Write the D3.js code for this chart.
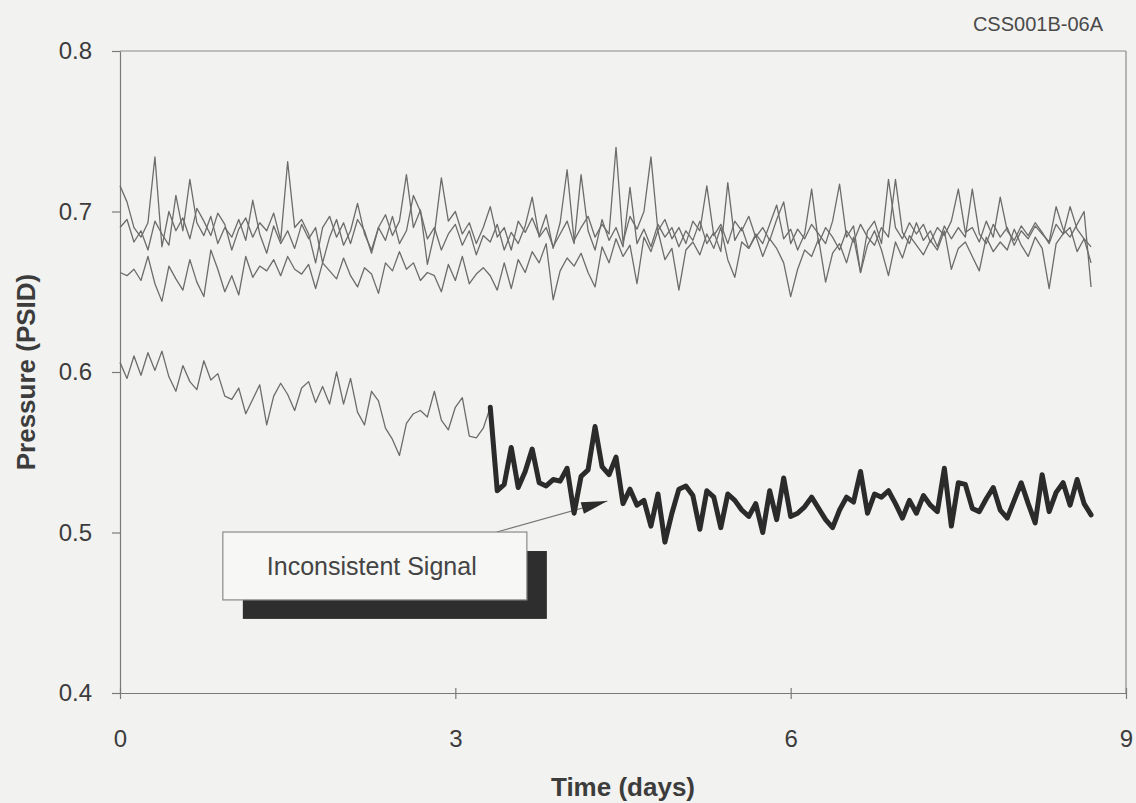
<!DOCTYPE html>
<html>
<head>
<meta charset="utf-8">
<script src="https://cdn.jsdelivr.net/npm/d3@7"></script>
<style>
  html, body { margin: 0; padding: 0; background: #f2f2f0; }
  svg { display: block; }
  text { font-family: "Liberation Sans", Arial, Helvetica, sans-serif; }
</style>
</head>
<body>
<svg id="chart" width="1136" height="803"></svg>
<script>
// Differential pressure, sampled every 1.5 hours
const sampleStepDays = 1 / 16;

const xTickValues = [0, 3, 6, 9];
const yTickValues = [0.4, 0.5, 0.6, 0.7, 0.8];
const yTickLabels = ["0.4", "0.5", "0.6", "0.7", "0.8"];

const chartTag = "CSS001B-06A";
const xTitle = "Time (days)";
const yTitle = "Pressure (PSID)";
const calloutText = "Inconsistent Signal";

// Three healthy channels
const channelA = [
  0.662, 0.660, 0.664, 0.657, 0.672, 0.655, 0.644, 0.666, 0.658, 0.651, 0.670, 0.656, 0.647, 0.676, 0.664, 0.650, 0.660, 0.648, 0.672, 0.659,
  0.666, 0.663, 0.670, 0.660, 0.672, 0.664, 0.661, 0.667, 0.652, 0.668, 0.663, 0.658, 0.671, 0.660, 0.653, 0.665, 0.661, 0.649, 0.668, 0.663,
  0.675, 0.664, 0.668, 0.657, 0.662, 0.660, 0.650, 0.667, 0.657, 0.672, 0.655, 0.661, 0.665, 0.660, 0.651, 0.668, 0.652, 0.670, 0.662, 0.675,
  0.668, 0.680, 0.645, 0.663, 0.671, 0.666, 0.674, 0.662, 0.653, 0.678, 0.668, 0.683, 0.672, 0.679, 0.655, 0.684, 0.675, 0.688, 0.670, 0.677,
  0.651, 0.676, 0.681, 0.673, 0.686, 0.677, 0.690, 0.670, 0.659, 0.681, 0.677, 0.685, 0.672, 0.683, 0.677, 0.668, 0.647, 0.664, 0.676, 0.672,
  0.683, 0.656, 0.674, 0.680, 0.668, 0.684, 0.662, 0.679, 0.688, 0.676, 0.660, 0.681, 0.671, 0.685, 0.679, 0.673, 0.682, 0.676, 0.688, 0.664,
  0.677, 0.681, 0.672, 0.663, 0.684, 0.675, 0.681, 0.676, 0.689, 0.679, 0.672, 0.684, 0.677, 0.652, 0.680, 0.686, 0.690, 0.675, 0.683, 0.678
];

const channelB = [
  0.716, 0.706, 0.690, 0.684, 0.693, 0.734, 0.678, 0.700, 0.688, 0.696, 0.683, 0.702, 0.694, 0.685, 0.699, 0.692, 0.676, 0.689, 0.696, 0.684,
  0.693, 0.688, 0.699, 0.682, 0.731, 0.690, 0.695, 0.686, 0.668, 0.690, 0.697, 0.684, 0.693, 0.680, 0.695, 0.688, 0.674, 0.690, 0.698, 0.685,
  0.694, 0.723, 0.690, 0.701, 0.667, 0.686, 0.721, 0.694, 0.700, 0.686, 0.693, 0.680, 0.690, 0.703, 0.684, 0.690, 0.676, 0.694, 0.687, 0.696,
  0.685, 0.698, 0.677, 0.693, 0.726, 0.682, 0.690, 0.697, 0.684, 0.692, 0.686, 0.740, 0.681, 0.697, 0.689, 0.700, 0.734, 0.688, 0.695, 0.683,
  0.690, 0.680, 0.694, 0.688, 0.716, 0.685, 0.692, 0.680, 0.694, 0.688, 0.697, 0.684, 0.690, 0.682, 0.695, 0.706, 0.680, 0.689, 0.683, 0.692,
  0.686, 0.680, 0.694, 0.717, 0.684, 0.691, 0.662, 0.688, 0.694, 0.680, 0.720, 0.690, 0.683, 0.693, 0.686, 0.692, 0.681, 0.690, 0.685, 0.694,
  0.714, 0.687, 0.690, 0.681, 0.694, 0.684, 0.709, 0.688, 0.682, 0.691, 0.685, 0.693, 0.687, 0.680, 0.692, 0.686, 0.703, 0.689, 0.683, 0.668
];

const channelC = [
  0.690, 0.695, 0.681, 0.688, 0.676, 0.694, 0.686, 0.679, 0.710, 0.688, 0.720, 0.693, 0.685, 0.697, 0.680, 0.690, 0.684, 0.695, 0.682, 0.707,
  0.686, 0.674, 0.691, 0.680, 0.688, 0.677, 0.692, 0.683, 0.690, 0.668, 0.684, 0.695, 0.679, 0.688, 0.705, 0.686, 0.676, 0.690, 0.682, 0.697,
  0.680, 0.688, 0.710, 0.700, 0.683, 0.690, 0.676, 0.686, 0.692, 0.679, 0.688, 0.673, 0.685, 0.681, 0.692, 0.676, 0.687, 0.680, 0.691, 0.709,
  0.684, 0.690, 0.678, 0.686, 0.694, 0.680, 0.723, 0.688, 0.676, 0.695, 0.682, 0.690, 0.678, 0.715, 0.680, 0.689, 0.678, 0.692, 0.684, 0.690,
  0.678, 0.688, 0.682, 0.694, 0.680, 0.687, 0.675, 0.718, 0.682, 0.690, 0.677, 0.686, 0.680, 0.692, 0.704, 0.683, 0.689, 0.676, 0.686, 0.714,
  0.680, 0.690, 0.684, 0.676, 0.688, 0.681, 0.692, 0.684, 0.679, 0.690, 0.684, 0.720, 0.687, 0.680, 0.693, 0.682, 0.688, 0.678, 0.691, 0.683,
  0.690, 0.684, 0.714, 0.686, 0.680, 0.692, 0.684, 0.690, 0.679, 0.688, 0.683, 0.691, 0.686, 0.681, 0.703, 0.689, 0.684, 0.692, 0.700, 0.653
];

// Drifting channel; from sample 53 onward the reading is flagged as inconsistent
const channelD = [
  0.606, 0.596, 0.610, 0.598, 0.612, 0.601, 0.613, 0.597, 0.588, 0.604, 0.594, 0.589, 0.607, 0.595, 0.599, 0.585, 0.583, 0.590, 0.574, 0.583,
  0.592, 0.567, 0.585, 0.593, 0.586, 0.576, 0.590, 0.594, 0.581, 0.591, 0.580, 0.600, 0.580, 0.596, 0.575, 0.567, 0.588, 0.582, 0.565, 0.558,
  0.548, 0.568, 0.574, 0.576, 0.572, 0.588, 0.570, 0.564, 0.578, 0.584, 0.560, 0.559, 0.565, 0.578, 0.526, 0.530, 0.553, 0.528, 0.538, 0.552,
  0.531, 0.529, 0.533, 0.532, 0.540, 0.512, 0.535, 0.539, 0.566, 0.541, 0.536, 0.547, 0.518, 0.527, 0.517, 0.520, 0.504, 0.524, 0.494, 0.512,
  0.527, 0.529, 0.523, 0.502, 0.526, 0.522, 0.503, 0.524, 0.520, 0.514, 0.510, 0.518, 0.500, 0.526, 0.508, 0.534, 0.510, 0.512, 0.516, 0.522,
  0.515, 0.508, 0.503, 0.514, 0.522, 0.519, 0.538, 0.512, 0.524, 0.522, 0.526, 0.518, 0.509, 0.520, 0.512, 0.523, 0.517, 0.513, 0.540, 0.504,
  0.531, 0.530, 0.515, 0.513, 0.521, 0.528, 0.514, 0.509, 0.520, 0.531, 0.518, 0.506, 0.536, 0.513, 0.525, 0.531, 0.517, 0.533, 0.518, 0.511
];
const flaggedFromIndex = 53;

// Callout placement in data units (days, PSID)
const calloutBox = { d0: 0.92, d1: 3.64, p0: 0.5003, p1: 0.458 };
const calloutArrow = { fromDay: 3.37, fromP: 0.5003, toDay: 4.36, toP: 0.5196 };

const svg = d3.select("#chart");
const W = 1136, H = 803;
const plot = { left: 120, right: 1126, top: 51, bottom: 693 };

svg.append("rect").attr("width", W).attr("height", H).attr("fill", "#f2f2f0");

const x = d3.scaleLinear().domain([0, 9]).range([plot.left, plot.right]);
const y = d3.scaleLinear().domain([0.4, 0.8]).range([plot.bottom, plot.top]);

const axisColor = "#7a7a7a";
const textColor = "#3c3c3c";
const fontStack = "'Liberation Sans', Arial, sans-serif";

// Frame (top and right edges)
svg.append("line")
  .attr("x1", plot.left).attr("x2", plot.right)
  .attr("y1", plot.top).attr("y2", plot.top)
  .attr("stroke", "#8a8a8a").attr("stroke-width", 1.2);
svg.append("line")
  .attr("x1", plot.right).attr("x2", plot.right)
  .attr("y1", plot.top).attr("y2", plot.bottom)
  .attr("stroke", "#8a8a8a").attr("stroke-width", 1.2);

// Y axis
const yAxis = d3.axisLeft(y)
  .tickValues(yTickValues)
  .tickFormat((d, i) => yTickLabels[i])
  .tickSizeInner(8).tickSizeOuter(0).tickPadding(20);
const gy = svg.append("g").attr("transform", `translate(${plot.left},0)`).call(yAxis);
gy.select(".domain").attr("stroke", axisColor).attr("stroke-width", 1.2);
gy.selectAll(".tick line").attr("stroke", axisColor).attr("stroke-width", 1.2);
gy.selectAll(".tick text").attr("fill", textColor).attr("font-size", 24)
  .attr("font-family", fontStack);

// X axis
const xAxis = d3.axisBottom(x)
  .tickValues(xTickValues)
  .tickFormat(d3.format("d"))
  .tickSizeInner(6).tickSizeOuter(0).tickPadding(31);
const gx = svg.append("g").attr("transform", `translate(0,${plot.bottom})`).call(xAxis);
gx.select(".domain").attr("stroke", axisColor).attr("stroke-width", 1.2);
gx.selectAll(".tick line").attr("y1", -5).attr("stroke", axisColor).attr("stroke-width", 1.2);
gx.selectAll(".tick text").attr("fill", textColor).attr("font-size", 24)
  .attr("font-family", fontStack);

// Axis titles
svg.append("text")
  .attr("x", (plot.left + plot.right) / 2).attr("y", 796)
  .attr("text-anchor", "middle").attr("font-size", 26).attr("font-weight", "bold")
  .attr("fill", textColor).text(xTitle);
svg.append("text")
  .attr("transform", `translate(35,${(plot.top + plot.bottom) / 2}) rotate(-90)`)
  .attr("text-anchor", "middle").attr("font-size", 26).attr("font-weight", "bold")
  .attr("fill", textColor).text(yTitle);

// Tag at top right
svg.append("text")
  .attr("x", 1103).attr("y", 31)
  .attr("text-anchor", "end").attr("font-size", 20)
  .attr("fill", "#4a4a4a").text(chartTag);

// Series
const line = d3.line()
  .x(d => x(d.t))
  .y(d => y(d.v));

const toPoints = arr => arr.map((v, i) => ({ t: i * sampleStepDays, v }));

const thinSeries = [channelA, channelB, channelC];
svg.append("g").selectAll("path")
  .data(thinSeries)
  .join("path")
  .attr("d", s => line(toPoints(s)))
  .attr("fill", "none")
  .attr("stroke", "#6c6c6c")
  .attr("stroke-width", 1.3)
  .attr("stroke-linejoin", "round");

const dPoints = toPoints(channelD);
svg.append("path")
  .attr("d", line(dPoints.slice(0, flaggedFromIndex + 1)))
  .attr("fill", "none")
  .attr("stroke", "#6c6c6c")
  .attr("stroke-width", 1.3)
  .attr("stroke-linejoin", "round");

// Callout: shadowed box, label and arrow
const bx0 = x(calloutBox.d0), bx1 = x(calloutBox.d1);
const by0 = y(calloutBox.p0), by1 = y(calloutBox.p1);
const shadowDx = 20, shadowDy = 19;

svg.append("line")
  .attr("x1", x(calloutArrow.fromDay)).attr("y1", y(calloutArrow.fromP))
  .attr("x2", x(calloutArrow.toDay)).attr("y2", y(calloutArrow.toP))
  .attr("stroke", "#777").attr("stroke-width", 1.2);

svg.append("path")
  .attr("d", line(dPoints.slice(flaggedFromIndex)))
  .attr("fill", "none")
  .attr("stroke", "#2b2b2b")
  .attr("stroke-width", 5)
  .attr("stroke-linejoin", "round")
  .attr("stroke-linecap", "round");

{
  const ax = x(calloutArrow.toDay), ay = y(calloutArrow.toP);
  const fx = x(calloutArrow.fromDay), fy = y(calloutArrow.fromP);
  const ang = Math.atan2(ay - fy, ax - fx);
  const len = 26, half = 6;
  const bxh = ax - len * Math.cos(ang), byh = ay - len * Math.sin(ang);
  const px = -Math.sin(ang) * half, py = Math.cos(ang) * half;
  svg.append("path")
    .attr("d", `M${ax},${ay}L${bxh + px},${byh + py}L${bxh - px},${byh - py}Z`)
    .attr("fill", "#2b2b2b");
}

svg.append("rect")
  .attr("x", bx0 + shadowDx).attr("y", by0 + shadowDy)
  .attr("width", bx1 - bx0).attr("height", by1 - by0)
  .attr("fill", "#2e2e2e");
svg.append("rect")
  .attr("x", bx0).attr("y", by0)
  .attr("width", bx1 - bx0).attr("height", by1 - by0)
  .attr("fill", "#f7f7f5")
  .attr("stroke", "#8a8a8a").attr("stroke-width", 1.2);
svg.append("text")
  .attr("x", bx0 + 44).attr("y", by0 + 43)
  .attr("font-size", 25).attr("fill", "#444")
  .text(calloutText);
</script>
</body>
</html>
